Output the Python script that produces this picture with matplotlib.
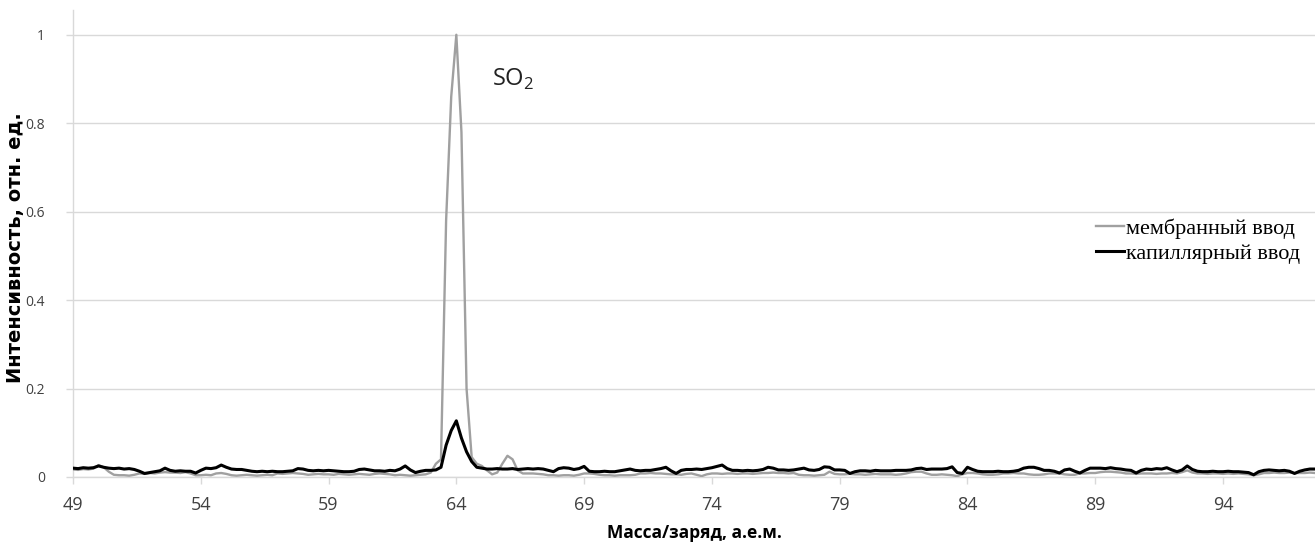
import numpy as np
import matplotlib
matplotlib.use("Agg")
import matplotlib.pyplot as plt
from matplotlib.ticker import FuncFormatter

# m/z grid, step 0.2 a.m.u. (49.0 ... 97.6)
mz = np.round(49.0 + 0.2 * np.arange(244), 1)

# membrane inlet (grey)
membrane = [
    0.017, 0.016, 0.018, 0.017, 0.019, 0.027, 0.022, 0.012, 0.005, 0.004,  # 49
    0.004, 0.003, 0.005, 0.008, 0.007, 0.009, 0.008, 0.010, 0.011, 0.010,  # 51
    0.010, 0.009, 0.011, 0.008, 0.004, 0.004, 0.005, 0.004, 0.008, 0.009,  # 53
    0.007, 0.004, 0.003, 0.004, 0.005, 0.004, 0.003, 0.004, 0.005, 0.004,  # 55
    0.008, 0.007, 0.008, 0.009, 0.008, 0.007, 0.005, 0.006, 0.007, 0.006,  # 57
    0.006, 0.005, 0.007, 0.006, 0.005, 0.006, 0.007, 0.006, 0.005, 0.007,  # 59
    0.008, 0.007, 0.006, 0.004, 0.005, 0.004, 0.003, 0.004, 0.005, 0.006,  # 61
    0.010, 0.030, 0.040, 0.580, 0.860, 1.000, 0.780, 0.200, 0.045, 0.030,  # 63
    0.025, 0.015, 0.006, 0.010, 0.030, 0.048, 0.040, 0.015, 0.008, 0.008,  # 65
    0.008, 0.007, 0.006, 0.004, 0.004, 0.003, 0.004, 0.004, 0.003, 0.005,  # 67
    0.008, 0.008, 0.007, 0.005, 0.004, 0.004, 0.003, 0.004, 0.004, 0.004,  # 69
    0.005, 0.008, 0.008, 0.009, 0.008, 0.008, 0.007, 0.006, 0.006, 0.005,  # 71
    0.007, 0.008, 0.005, 0.002, 0.006, 0.008, 0.008, 0.007, 0.008, 0.008,  # 73
    0.007, 0.008, 0.008, 0.007, 0.008, 0.009, 0.009, 0.010, 0.009, 0.009,  # 75
    0.008, 0.009, 0.005, 0.004, 0.004, 0.003, 0.004, 0.005, 0.012, 0.007,  # 77
    0.006, 0.006, 0.007, 0.006, 0.006, 0.005, 0.006, 0.007, 0.006, 0.006,  # 79
    0.006, 0.005, 0.006, 0.008, 0.011, 0.012, 0.012, 0.008, 0.005, 0.005,  # 81
    0.006, 0.005, 0.004, 0.002, 0.006, 0.009, 0.009, 0.008, 0.006, 0.005,  # 83
    0.005, 0.006, 0.008, 0.008, 0.009, 0.008, 0.008, 0.006, 0.005, 0.005,  # 85
    0.006, 0.008, 0.008, 0.008, 0.006, 0.005, 0.005, 0.008, 0.008, 0.009,  # 87
    0.009, 0.011, 0.012, 0.012, 0.011, 0.010, 0.008, 0.008, 0.007, 0.008,  # 89
    0.008, 0.008, 0.007, 0.008, 0.008, 0.009, 0.008, 0.011, 0.015, 0.010,  # 91
    0.008, 0.008, 0.007, 0.008, 0.008, 0.007, 0.008, 0.007, 0.008, 0.007,  # 93
    0.006, 0.004, 0.006, 0.009, 0.009, 0.010, 0.009, 0.009, 0.010, 0.009,  # 95
    0.009, 0.009, 0.010, 0.009,                                            # 97
]

# capillary inlet (black)
capillary = [
    0.020, 0.019, 0.021, 0.020, 0.021, 0.025, 0.022, 0.020, 0.019, 0.020,  # 49
    0.018, 0.019, 0.017, 0.013, 0.008, 0.010, 0.012, 0.014, 0.020, 0.015,  # 51
    0.013, 0.014, 0.013, 0.013, 0.009, 0.015, 0.020, 0.019, 0.021, 0.027,  # 53
    0.022, 0.018, 0.017, 0.017, 0.015, 0.013, 0.012, 0.013, 0.012, 0.013,  # 55
    0.012, 0.012, 0.013, 0.014, 0.019, 0.018, 0.015, 0.014, 0.015, 0.014,  # 57
    0.015, 0.014, 0.013, 0.012, 0.012, 0.013, 0.017, 0.018, 0.016, 0.014,  # 59
    0.014, 0.013, 0.015, 0.014, 0.018, 0.025, 0.016, 0.010, 0.013, 0.015,  # 61
    0.015, 0.016, 0.022, 0.072, 0.105, 0.127, 0.088, 0.057, 0.035, 0.022,  # 63
    0.020, 0.018, 0.018, 0.019, 0.018, 0.018, 0.019, 0.017, 0.018, 0.019,  # 65
    0.018, 0.019, 0.018, 0.015, 0.012, 0.019, 0.021, 0.020, 0.017, 0.019,  # 67
    0.024, 0.013, 0.012, 0.012, 0.013, 0.012, 0.012, 0.014, 0.016, 0.018,  # 69
    0.015, 0.014, 0.015, 0.015, 0.017, 0.019, 0.022, 0.014, 0.008, 0.015,  # 71
    0.017, 0.017, 0.018, 0.017, 0.019, 0.021, 0.024, 0.027, 0.019, 0.015,  # 73
    0.015, 0.014, 0.015, 0.014, 0.015, 0.017, 0.022, 0.020, 0.016, 0.016,  # 75
    0.015, 0.016, 0.018, 0.020, 0.016, 0.015, 0.017, 0.023, 0.022, 0.016,  # 77
    0.016, 0.015, 0.008, 0.012, 0.014, 0.014, 0.013, 0.015, 0.014, 0.014,  # 79
    0.014, 0.015, 0.015, 0.015, 0.016, 0.019, 0.020, 0.017, 0.018, 0.018,  # 81
    0.018, 0.019, 0.023, 0.010, 0.008, 0.022, 0.017, 0.013, 0.012, 0.012,  # 83
    0.012, 0.013, 0.012, 0.012, 0.013, 0.015, 0.020, 0.022, 0.022, 0.019,  # 85
    0.015, 0.015, 0.013, 0.009, 0.016, 0.018, 0.013, 0.009, 0.015, 0.020,  # 87
    0.020, 0.020, 0.019, 0.021, 0.019, 0.018, 0.016, 0.015, 0.009, 0.015,  # 89
    0.018, 0.017, 0.019, 0.018, 0.021, 0.016, 0.012, 0.016, 0.025, 0.017,  # 91
    0.013, 0.012, 0.012, 0.013, 0.012, 0.012, 0.013, 0.012, 0.012, 0.011,  # 93
    0.010, 0.005, 0.012, 0.015, 0.016, 0.015, 0.014, 0.015, 0.013, 0.008,  # 95
    0.013, 0.016, 0.018, 0.018,                                            # 97
]

xticks = [49, 54, 59, 64, 69, 74, 79, 84, 89, 94]
yticks = [0, 0.2, 0.4, 0.6, 0.8, 1.0]

plt.rcParams['font.family'] = ['Open Sans', 'DejaVu Sans']
plt.rcParams['mathtext.fontset'] = 'custom'
plt.rcParams['mathtext.rm'] = 'Open Sans'

W, H = 1315, 549
fig = plt.figure(figsize=(W / 100, H / 100), dpi=100)
ax = fig.add_axes([73 / W, (H - 477) / H, (W - 73) / W, (477 - 10) / H])

grid_c = '#d9d9d9'
ax.plot(mz, membrane, color='#a0a0a0', lw=1.7, label='мембранный ввод', zorder=3)
ax.plot(mz, capillary, color='black', lw=2.2, label='капиллярный ввод', zorder=4)

ax.set_xlim(49, 97.6)
ax.set_ylim(0, 1.056)
ax.set_xticks(xticks)
ax.set_yticks(yticks)
ax.yaxis.set_major_formatter(FuncFormatter(lambda v, p: '%g' % v))
ax.grid(axis='y', color=grid_c, lw=1)
ax.set_axisbelow(True)

for s in ['top', 'right']:
    ax.spines[s].set_visible(False)
for s in ['left', 'bottom']:
    ax.spines[s].set_color(grid_c)
    ax.spines[s].set_linewidth(1)

ax.tick_params(axis='x', colors=grid_c, labelcolor='#404040', labelsize=13,
               length=5, width=1, pad=9)
ax.tick_params(axis='y', colors=grid_c, labelcolor='#404040', labelsize=10,
               length=5, width=1, pad=15)

ax.set_xlabel('Масса/заряд, а.е.м.', fontsize=12.5, fontweight='bold', labelpad=7)
fig.text(16 / W, 1 - 248 / H, 'Интенсивность, отн. ед.', rotation=90,
         fontsize=14, fontweight='bold', family='DejaVu Sans',
         ha='center', va='center')

ax.text(65.4, 0.9, r'SO$_\mathregular{2}$', fontsize=17, color='#222222',
        ha='left', va='center')

leg = ax.legend(loc='center left', bbox_to_anchor=(1096 / W, (H - 241) / H),
                bbox_transform=fig.transFigure, frameon=False,
                prop={'family': 'Liberation Serif', 'size': 16},
                handlelength=1.25, handletextpad=0.1, labelspacing=0.2,
                borderpad=0, borderaxespad=0)

fig.savefig('out.png', dpi=100)
